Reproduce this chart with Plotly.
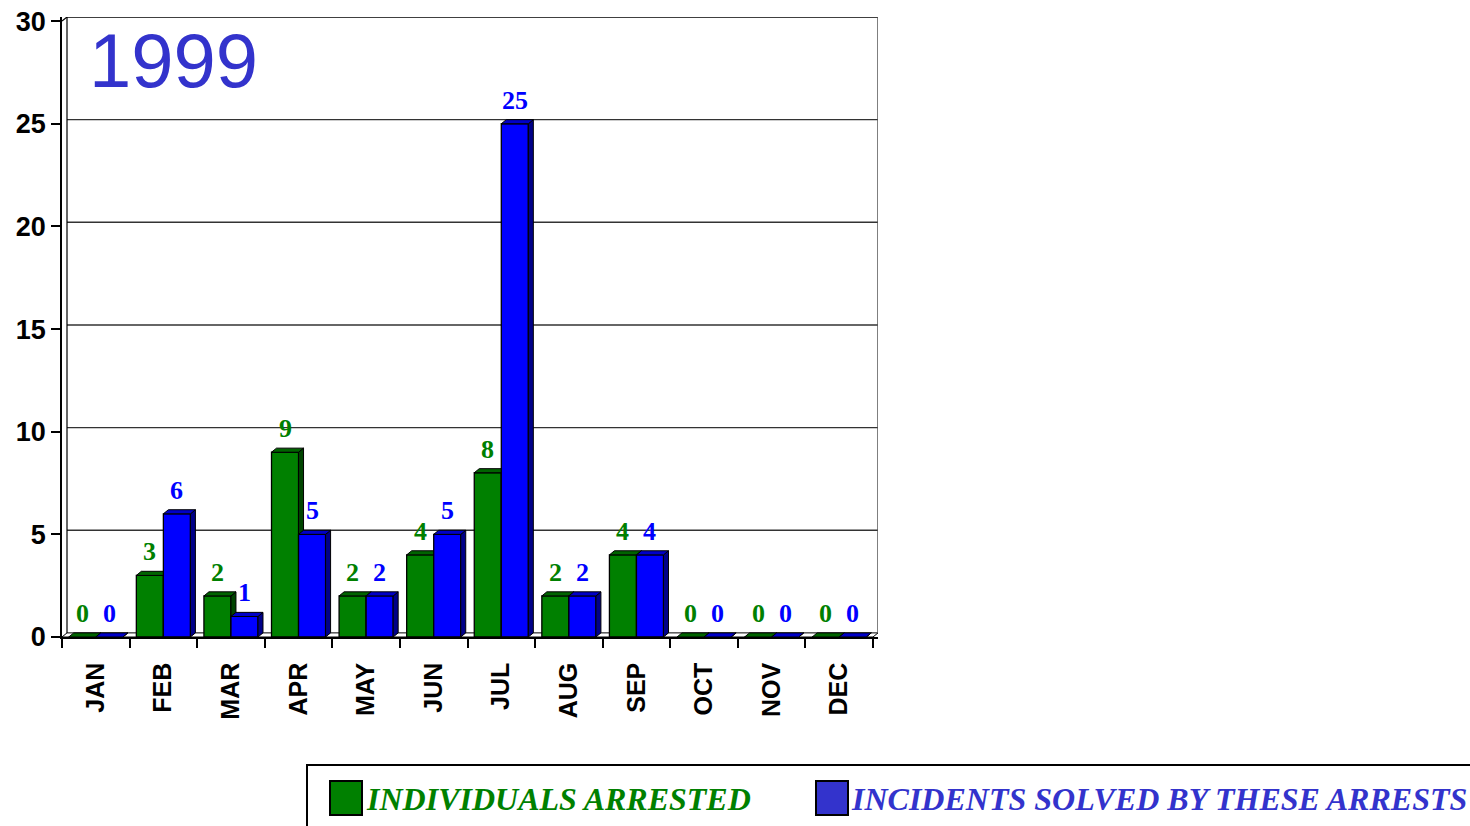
import plotly.graph_objects as go

# ---- data ----
months = ["JAN", "FEB", "MAR", "APR", "MAY", "JUN", "JUL", "AUG", "SEP", "OCT", "NOV", "DEC"]
arrested = [0, 3, 2, 9, 2, 4, 8, 2, 4, 0, 0, 0]
incidents = [0, 6, 1, 5, 2, 5, 25, 2, 4, 0, 0, 0]
yticks = [0, 5, 10, 15, 20, 25, 30]
series_names = ["INDIVIDUALS ARRESTED", "INCIDENTS SOLVED BY THESE ARRESTS"]
title_text = "1999"

# ---- style ----
W = 0.4          # bar width (category units)
DX = 0.074       # depth offset x (category units)
DY = 0.2         # depth offset y (value units)
GREEN, GREEN_TOP, GREEN_SIDE = "#008000", "#006400", "#004400"
BLUE, BLUE_TOP, BLUE_SIDE = "#0000FF", "#0000C8", "#000088"
LEG_BLUE = "#3333CC"
SANS = "Arial, Liberation Sans, sans-serif"
SERIF = "Times New Roman, Liberation Serif, serif"

L, R, T, B = 62, 1470 - 878, 17, 826 - 637
FW, FH = 1470, 826
PW, PH = FW - L - R, FH - T - B


def px(x):
    return (x - L) / PW


def py(y):
    return (FH - B - y) / PH


xs = list(range(len(months)))


def faces(vals, off):
    tx, ty, sx, sy = [], [], [], []
    for i, v in zip(xs, vals):
        x0 = i + off
        x1 = x0 + W
        tx += [x0, x1, x1 + DX, x0 + DX, x0, None]
        ty += [v, v, v + DY, v + DY, v, None]
        sx += [x1, x1 + DX, x1 + DX, x1, x1, None]
        sy += [0, DY, v + DY, v, 0, None]
    return tx, ty, sx, sy


fig = go.Figure()


def add_series(vals, off, front, top, side, xa, ya, name):
    fig.add_trace(go.Bar(x=xs, y=vals, width=W, offset=off, name=name,
                         marker=dict(color=front, line=dict(color="black", width=1.3)),
                         xaxis=xa, yaxis=ya, showlegend=False, hoverinfo="y"))
    tx, ty, sx, sy = faces(vals, off)
    fig.add_trace(go.Scatter(x=sx, y=sy, fill="toself", fillcolor=side, mode="lines",
                             line=dict(color="black", width=1), xaxis=xa, yaxis=ya,
                             showlegend=False, hoverinfo="skip"))
    fig.add_trace(go.Scatter(x=tx, y=ty, fill="toself", fillcolor=top, mode="lines",
                             line=dict(color="black", width=1), xaxis=xa, yaxis=ya,
                             showlegend=False, hoverinfo="skip"))


add_series(arrested, -W, GREEN, GREEN_TOP, GREEN_SIDE, "x", "y", series_names[0])
add_series(incidents, 0, BLUE, BLUE_TOP, BLUE_SIDE, "x2", "y2", series_names[1])

xrange = [-0.5, len(months) - 0.5 + DX]
yrange = [0, max(yticks) + DY]

shapes = []
# floor
x_lo, x_hi = -0.5, len(months) - 0.5
shapes.append(dict(type="path", xref="x", yref="y", layer="below",
                   path=f"M {x_lo},0 L {x_hi},0 L {x_hi+DX},{DY} L {x_lo+DX},{DY} Z",
                   fillcolor="white", line=dict(color="black", width=1)))
# gridlines on back wall
for v in yticks[1:-1]:
    shapes.append(dict(type="line", xref="x", yref="y", layer="below",
                       x0=x_lo + DX, x1=x_hi + DX, y0=v + DY, y1=v + DY,
                       line=dict(color="#333333", width=1.4)))
top_v = max(yticks) + DY
shapes += [
    dict(type="line", xref="x", yref="y", x0=x_lo + DX, x1=x_hi + DX, y0=top_v, y1=top_v,
         line=dict(color="black", width=1.5)),
    dict(type="line", xref="x", yref="y", x0=x_hi + DX, x1=x_hi + DX, y0=DY, y1=top_v,
         line=dict(color="#555555", width=1.5)),
    dict(type="line", xref="x", yref="y", x0=x_lo + DX, x1=x_lo + DX, y0=DY, y1=top_v,
         line=dict(color="black", width=1.2)),
    dict(type="line", xref="x", yref="y", x0=x_lo, x1=x_lo + DX, y0=max(yticks), y1=top_v,
         line=dict(color="black", width=1.2)),
]
# legend box (manual)
shapes.append(dict(type="rect", xref="paper", yref="paper", x0=px(307), x1=px(1485),
                   y0=py(765), y1=py(835), line=dict(color="black", width=2), fillcolor="white"))
shapes.append(dict(type="rect", xref="paper", yref="paper", x0=px(330), x1=px(362),
                   y0=py(781), y1=py(815), line=dict(color="black", width=2), fillcolor=GREEN))
shapes.append(dict(type="rect", xref="paper", yref="paper", x0=px(816), x1=px(848),
                   y0=py(781), y1=py(815), line=dict(color="black", width=2), fillcolor=LEG_BLUE))

annotations = []
for i, v in zip(xs, arrested):
    annotations.append(dict(x=i - W / 2, y=v + DY, xref="x", yref="y", text=str(v),
                            showarrow=False, yanchor="bottom", yshift=3,
                            font=dict(family=SERIF, size=26, color=GREEN, weight="bold")))
for i, v in zip(xs, incidents):
    annotations.append(dict(x=i + W / 2, y=v + DY, xref="x", yref="y", text=str(v),
                            showarrow=False, yanchor="bottom", yshift=3,
                            font=dict(family=SERIF, size=26, color=BLUE, weight="bold")))
annotations.append(dict(x=px(87), y=py(16), xref="paper", yref="paper", text=title_text,
                        showarrow=False, xanchor="left", yanchor="top",
                        font=dict(family=SANS, size=76, color=LEG_BLUE)))
annotations.append(dict(x=px(364), y=py(799), xref="paper", yref="paper", text=series_names[0],
                        showarrow=False, xanchor="left", yanchor="middle",
                        font=dict(family=SERIF, size=32, color=GREEN, weight="bold", style="italic")))
annotations.append(dict(x=px(849), y=py(799), xref="paper", yref="paper", text=series_names[1],
                        showarrow=False, xanchor="left", yanchor="middle",
                        font=dict(family=SERIF, size=32, color=LEG_BLUE, weight="bold", style="italic")))

fig.update_layout(
    width=FW, height=FH,
    margin=dict(l=L, r=R, t=T, b=B, autoexpand=False),
    paper_bgcolor="white", plot_bgcolor="white",
    showlegend=False,
    shapes=shapes, annotations=annotations,
    xaxis=dict(range=xrange, tickmode="array", tickvals=xs, ticktext=months, tickangle=-90,
               ticks="", showgrid=False, zeroline=False, showline=True, linecolor="black",
               linewidth=1.5, ticklabelstandoff=14, automargin=False,
               tickfont=dict(family=SANS, size=25, color="black", weight="bold"),
               minor=dict(tickmode="array", tickvals=[i - 0.5 for i in range(len(months) + 1)],
                          ticks="outside", ticklen=9, tickcolor="black", tickwidth=1.5,
                          showgrid=False)),
    yaxis=dict(range=yrange, tickmode="array", tickvals=yticks, ticks="outside", ticklen=9,
               tickcolor="black", tickwidth=1.5, showgrid=False, zeroline=False,
               showline=True, linecolor="black", linewidth=1.5, automargin=False,
               tickfont=dict(family=SANS, size=27, color="black", weight="bold")),
    xaxis2=dict(range=xrange, overlaying="x", visible=False, matches="x", automargin=False),
    yaxis2=dict(range=yrange, overlaying="y", visible=False, matches="y", automargin=False),
)

fig.write_html(
    "out.html",
    config={"displayModeBar": False},
    post_script="document.body.style.margin='0';document.body.style.overflow='hidden';",
)
